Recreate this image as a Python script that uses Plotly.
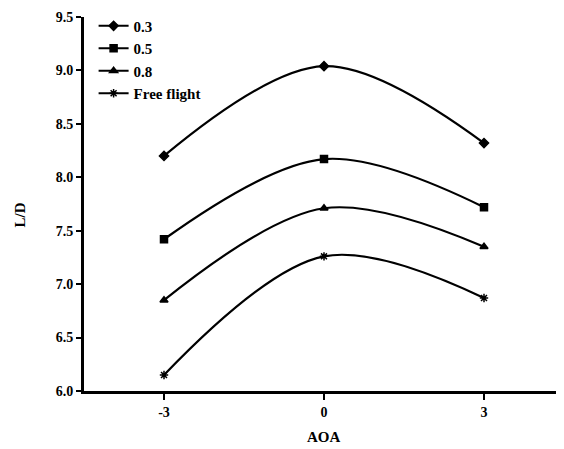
import plotly.graph_objects as go

aoa = [-3, 0, 3]
series_names = ["0.3", "0.5", "0.8", "Free flight"]
ld_03 = [8.20, 9.04, 8.32]
ld_05 = [7.42, 8.17, 7.72]
ld_08 = [6.85, 7.71, 7.35]
ld_free = [6.15, 7.26, 6.87]
symbols = ["diamond", "square", "triangle-up", "asterisk"]

fig = go.Figure()
for name, vals, sym in zip(series_names, [ld_03, ld_05, ld_08, ld_free], symbols):
    fig.add_trace(go.Scatter(
        x=aoa, y=vals, name=name, mode="lines+markers",
        line=dict(color="black", width=2.2, shape="spline", smoothing=1.0),
        marker=dict(symbol=sym, size=7, color="black",
                    line=dict(color="black", width=1.5)),
    ))

bold = dict(family="Liberation Serif", size=14, color="black", weight="bold")
fig.update_layout(
    width=556, height=441,
    margin=dict(l=76, r=0, t=9, b=58, autoexpand=False),
    plot_bgcolor="white", paper_bgcolor="white",
    font=dict(family="Liberation Serif", size=14, color="black"),
    showlegend=True,
    legend=dict(x=0.02, y=1.02, xanchor="left", yanchor="top",
                bgcolor="rgba(0,0,0,0)", font=dict(family="Liberation Serif", size=15, color="black", weight="bold"),
                tracegroupgap=0, itemwidth=30),
    xaxis=dict(range=[-4.5, 4.5], tickvals=aoa, ticktext=["-3", "0", "3"],
               showline=True, linecolor="black", linewidth=3, showgrid=False, zeroline=False,
               ticks="outside", ticklen=6, tickwidth=2, tickcolor="black",
               tickfont=bold, automargin=False),
    yaxis=dict(range=[6.0, 9.5], tickvals=[6.0, 6.5, 7.0, 7.5, 8.0, 8.5, 9.0, 9.5],
               ticktext=["6.0", "6.5", "7.0", "7.5", "8.0", "8.5", "9.0", "9.5"],
               showline=True, linecolor="black", linewidth=3, showgrid=False, zeroline=False,
               ticks="outside", ticklen=5, tickwidth=2, tickcolor="black",
               tickfont=bold, automargin=False),
    annotations=[
        dict(text="AOA", xref="paper", yref="paper", x=0.5, y=-0.123, xanchor="center",
             yanchor="middle", showarrow=False, font=dict(family="Liberation Serif", size=15, color="black", weight="bold")),
        dict(text="L/D", xref="paper", yref="paper", x=-0.133, y=0.47, xanchor="center",
             yanchor="middle", showarrow=False, textangle=-90,
             font=dict(family="Liberation Serif", size=15, color="black", weight="bold")),
    ],
)

fig.write_html("out.html")
